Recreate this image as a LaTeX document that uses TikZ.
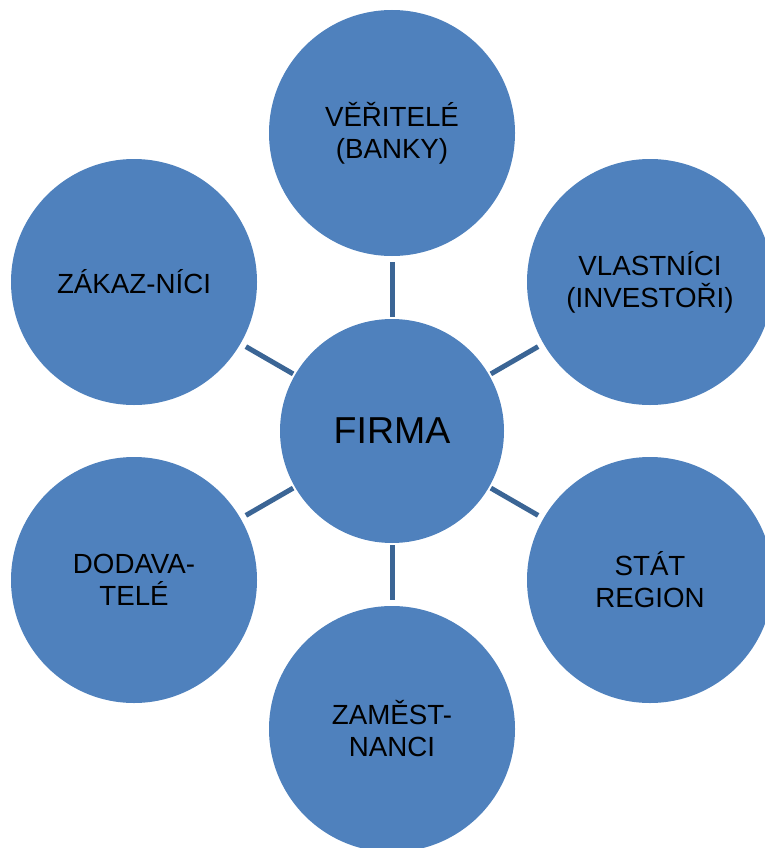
\documentclass[tikz,border=0pt]{standalone}
\usepackage{fontspec}
\setmainfont{Liberation Sans}
\definecolor{fillblue}{HTML}{4F81BD}
\definecolor{linkblue}{HTML}{3B6595}
\begin{document}
\begin{tikzpicture}[x=1pt,y=-1pt,
  outer/.style={circle,fill=fillblue,inner sep=0pt,minimum size=246pt,align=center,font=\fontsize{27.7}{32}\selectfont},
  inner/.style={circle,fill=fillblue,inner sep=0pt,minimum size=224pt,align=center,font=\fontsize{37.5}{44}\selectfont},
  link/.style={draw=linkblue,line width=5pt,shorten <=2pt,shorten >=6pt}]
\useasboundingbox (0,0) rectangle (765,848);
\clip (0,0) rectangle (765,848);
\node[inner] (firma) at (392,431) {FIRMA};
\node[outer] (ver) at (392,133) {VĚŘITELÉ\\(BANKY)};
\node[outer] (vla) at (650,282) {VLASTNÍCI\\(INVESTOŘI)};
\node[outer] (stat) at (650,580) {STÁT\\REGION};
\node[outer] (zam) at (392,729) {ZAMĚST-\\NANCI};
\node[outer] (dod) at (134,580) {DODAVA-\\TELÉ};
\node[outer] (zak) at (134,282) {ZÁKAZ-NÍCI};
\foreach \n in {ver,vla,stat,zam,dod,zak} \draw[link] (firma) -- (\n);
\end{tikzpicture}
\end{document}
